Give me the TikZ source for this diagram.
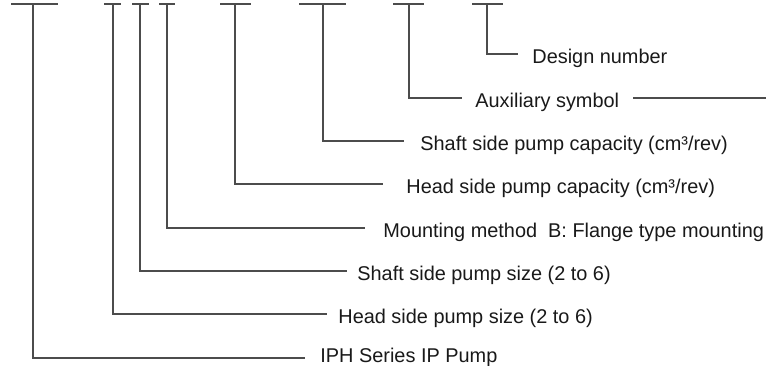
\documentclass[tikz,border=0pt]{standalone}
\usepackage{fontspec}
\setmainfont{Liberation Sans}
\usepackage{tikz}
\usetikzlibrary{calc,positioning}
\tikzset{
    bar/.style={draw=black!70, line width=0.65pt},
    lead/.style={draw=black!70, line width=0.65pt},
    codetext/.style={
        anchor=base west,
        inner sep=0pt,
        text=black!90,
        font={\fontsize{9.95pt}{12}\selectfont}
    },
}

\begin{document}
\begin{tikzpicture}[x=0.5pt,y=-0.5pt]
\useasboundingbox (0,0) rectangle (766,365);
% the code fields
\coordinate (s1) at (33,4);
\coordinate (s2) at (113,4);
\coordinate (s3) at (140,4);
\coordinate (s4) at (167,4);
\coordinate (s5) at (235,4);
\coordinate (s6) at (323,4);
\coordinate (s7) at (409,4);
\coordinate (s8) at (487,4);
\draw[bar] (11,4) -- (58,4);
\draw[bar] (104,4) -- (121,4);
\draw[bar] (132,4) -- (149,4);
\draw[bar] (159,4) -- (175,4);
\draw[bar] (220,4) -- (251,4);
\draw[bar] (299,4) -- (346,4);
\draw[bar] (393,4) -- (424,4);
\draw[bar] (472,4) -- (503,4);
% the labels
\node(design)[codetext] at (532,63) {Design number};
\node(aux)[codetext] at (475,107) {Auxiliary symbol};
\node(shaftcap)[codetext] at (420,150) {Shaft side pump capacity (cm³/rev)};
\node(headcap)[codetext] at (406,193) {Head side pump capacity (cm³/rev)};
\node(mount)[codetext] at (383,237) {Mounting method\ \ B: Flange type mounting};
\node(shaftsize)[codetext] at (357,280) {Shaft side pump size (2 to 6)};
\node(headsize)[codetext] at (338,323) {Head side pump size (2 to 6)};
\node(series)[codetext] at (320,362.5) {IPH Series IP Pump};
% leaders
\coordinate (e8) at (518,54);
\coordinate (e7) at (462,98);
\coordinate (e6) at (404,141);
\coordinate (e5) at (383,184);
\coordinate (e4) at (365,228);
\coordinate (e3) at (347,271);
\coordinate (e2) at (327,314);
\coordinate (e1) at (305,358);
\draw[lead] (s8) |- (e8);
\draw[lead] (s7) |- (e7);
\draw[lead] (s6) |- (e6);
\draw[lead] (s5) |- (e5);
\draw[lead] (s4) |- (e4);
\draw[lead] (s3) |- (e3);
\draw[lead] (s2) |- (e2);
\draw[lead] (s1) |- (e1);
\coordinate (t7) at (633,98);
\coordinate (r7) at (766,98);
\draw[lead] (t7) -- (r7);
\end{tikzpicture}
\end{document}
